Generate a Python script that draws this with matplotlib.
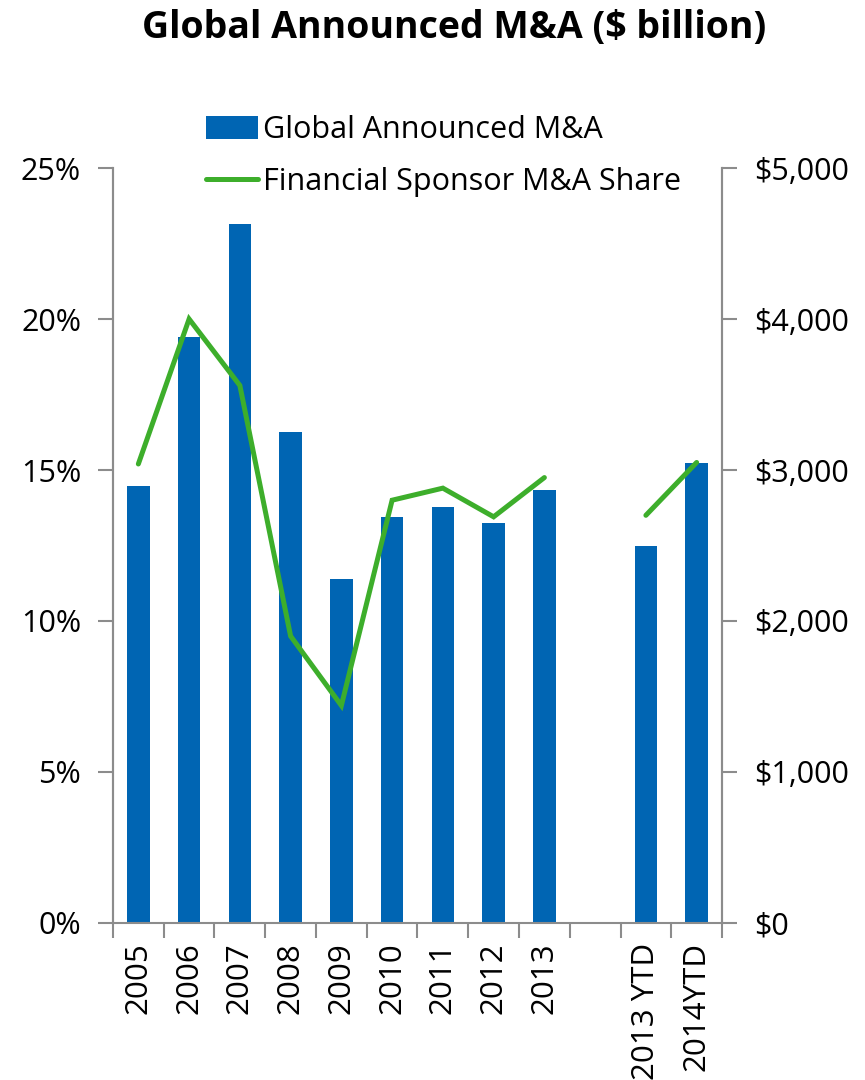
import numpy as np
import matplotlib
matplotlib.use("Agg")
import matplotlib.pyplot as plt
from matplotlib.ticker import FuncFormatter, FixedLocator

plt.rcParams['font.family'] = ['Open Sans', 'DejaVu Sans']

categories = ['2005', '2006', '2007', '2008', '2009', '2010', '2011', '2012', '2013', '', '2013 YTD', '2014YTD']
ma_value = [2894, 3881, 4629, 3252, 2278, 2689, 2755, 2649, 2868, np.nan, 2497, 3046]
sponsor_share = [15.2, 20.0, 17.8, 9.5, 7.2, 14.0, 14.4, 13.45, 14.75, np.nan, 13.5, 15.25]

BLUE = '#0065B3'
GREEN = '#3DAE2B'
GREY = '#8C8C8C'

fig = plt.figure(figsize=(8.65, 10.8), dpi=100)
ax = fig.add_axes([0.1306, 0.1454, 0.7041, 0.699])
ax2 = ax.twinx()

x = np.arange(len(categories))
bars = ax2.bar(x, ma_value, width=0.44, color=BLUE, zorder=1, label='Global Announced M&A')
ax2.set_ylim(0, 5000)

ax.set_zorder(ax2.get_zorder() + 1)
ax.patch.set_visible(False)
line, = ax.plot(x, sponsor_share, color=GREEN, lw=3.6, solid_capstyle='round',
                solid_joinstyle='miter', label='Financial Sponsor M&A Share')
ax.set_ylim(0, 25)
ax.set_xlim(-0.5, len(categories) - 0.5)

ax.set_yticks([0, 5, 10, 15, 20, 25])
ax.yaxis.set_major_formatter(FuncFormatter(lambda v, p: f'{v:.0f}%'))
ax2.set_yticks([0, 1000, 2000, 3000, 4000, 5000])
ax2.yaxis.set_major_formatter(FuncFormatter(lambda v, p: f'${v:,.0f}'))

ax.set_xticks(x)
ax.set_xticklabels(categories, rotation=90, va='top', ha='center')
ax.xaxis.set_minor_locator(FixedLocator(np.arange(-0.5, len(categories), 1.0)))
ax.tick_params(axis='x', which='major', length=0, pad=14, labelsize=22.5)
ax.tick_params(axis='x', which='minor', length=11, width=1.5, color=GREY)
ax.tick_params(axis='y', length=11, width=1.5, color=GREY, labelsize=22, pad=12)
ax2.tick_params(axis='y', length=11, width=1.5, color=GREY, labelsize=22, pad=12)

for a in (ax, ax2):
    for s in ['top']:
        a.spines[s].set_visible(False)
    for s in ['left', 'right', 'bottom']:
        a.spines[s].set_color(GREY)
        a.spines[s].set_linewidth(1.5)
ax2.spines['bottom'].set_visible(False)

fig.text(0.525, 0.992, 'Global Announced M&A ($ billion)', ha='center', va='top',
         fontsize=27, fontweight='bold')

leg = fig.legend(handles=[bars, line], loc='upper left', bbox_to_anchor=(0.224, 0.905),
                 frameon=False, fontsize=22, handlelength=1.7, handleheight=0.8,
                 handletextpad=0.15, labelspacing=0.72, borderaxespad=0)

fig.savefig('out.png', dpi=100)
